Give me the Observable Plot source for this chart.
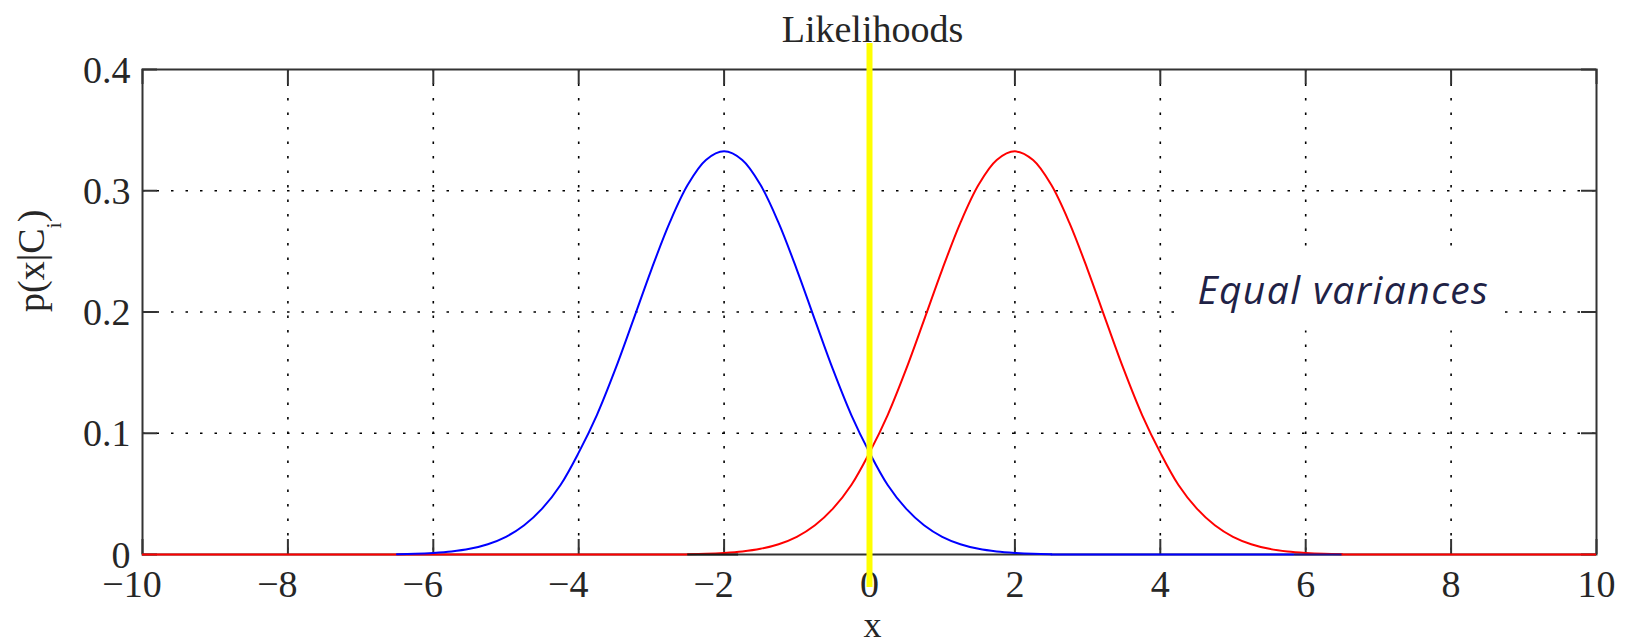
<!DOCTYPE html>
<html><head><meta charset="utf-8">
<script src="https://cdn.jsdelivr.net/npm/d3@7"></script>
<script src="https://cdn.jsdelivr.net/npm/@observablehq/plot@0.6"></script>
<style>html,body{margin:0;padding:0;background:#fff;}</style>
</head><body><div id="chart"></div>
<script>
// ---- data ----
const xTicks = [-10, -8, -6, -4, -2, 0, 2, 4, 6, 8, 10];
const xTickLabels = ["−10", "−8", "−6", "−4", "−2", "0", "2", "4", "6", "8", "10"];
const yTicks = [0, 0.1, 0.2, 0.3, 0.4];
const yTickLabels = ["0", "0.1", "0.2", "0.3", "0.4"];

const blueX = [-6.5,-6.25,-6,-5.75,-5.5,-5.25,-5,-4.75,-4.5,-4.25,-4,-3.75,-3.5,-3.25,-3,-2.75,-2.5,-2.25,-2,-1.75,-1.5,-1.25,-1,-0.75,-0.5,-0.25,0,0.25,0.5,0.75,1,1.25,1.5,1.75,2,2.25,2.5];
const blueP = [0.0003,0.0006,0.0013,0.0025,0.0047,0.0085,0.0146,0.0241,0.0380,0.0573,0.0840,0.1150,0.1522,0.1933,0.2350,0.2735,0.3049,0.3254,0.3325,0.3254,0.3049,0.2735,0.2350,0.1933,0.1522,0.1150,0.0840,0.0573,0.0380,0.0241,0.0146,0.0085,0.0047,0.0025,0.0013,0.0006,0.0003];
const redX = [-2.5,-2.25,-2,-1.75,-1.5,-1.25,-1,-0.75,-0.5,-0.25,0,0.25,0.5,0.75,1,1.25,1.5,1.75,2,2.25,2.5,2.75,3,3.25,3.5,3.75,4,4.25,4.5,4.75,5,5.25,5.5,5.75,6,6.25,6.5];
const redP = [0.0003,0.0006,0.0013,0.0025,0.0047,0.0085,0.0146,0.0241,0.0380,0.0573,0.0840,0.1150,0.1522,0.1933,0.2350,0.2735,0.3049,0.3254,0.3325,0.3254,0.3049,0.2735,0.2350,0.1933,0.1522,0.1150,0.0840,0.0573,0.0380,0.0241,0.0146,0.0085,0.0047,0.0025,0.0013,0.0006,0.0003];

// zero-level line pieces visible along the x axis
const baseFrom = [-10, 2.5, 6.5, -2.5, 5.85];
const baseTo   = [-2.5, 5.85, 10, -1.8, 6.5];
const baseSeries = ["C2", "C1", "C2", "D2", "D1"];

const boundaryX = [0];
const titleText = "Likelihoods";
const xLabel = "x";
const yLabel = "p(x|C";
const noteText = ["Equal variances"];
const noteX = [4.51];
const noteY = [0.207];

// ---- build ----
const W = 1628, H = 644;
const mL = 142, mR = 32, mT = 69, mB = 90;
const xDomain = [-10, 10], yDomain = [0, 0.4];
const plotW = W - mL - mR, plotH = H - mT - mB;
const tickLen = 15;
const tickDy = (yDomain[1] - yDomain[0]) * tickLen / plotH;
const tickDx = (xDomain[1] - xDomain[0]) * tickLen / plotW;

const blueData = blueX.map((x, i) => ({x, p: blueP[i]}));
const redData = redX.map((x, i) => ({x, p: redP[i]}));
const baseData = baseFrom.map((f, i) => ({from: f, to: baseTo[i], s: baseSeries[i]}));
const notes = noteText.map((t, i) => ({t, x: noteX[i], y: noteY[i]}));

const serif = "'Liberation Serif', 'Times New Roman', serif";
const fs = 38;
const grid = {stroke: "#000", strokeOpacity: 1, strokeWidth: 1.6, strokeDasharray: "2.5,12"};
const tk = {stroke: "#333", strokeWidth: 2};

const svg = Plot.plot({
  width: W, height: H,
  marginLeft: mL, marginRight: mR, marginTop: mT, marginBottom: mB,
  x: {domain: xDomain, axis: null},
  y: {domain: yDomain, axis: null},
  color: {domain: ["C1", "C2", "D1", "D2"], range: ["#0000ff", "#ff0000", "#22108a", "#1a1a1a"]},
  style: {fontFamily: serif, color: "#262626", background: "#fff"},
  marks: [
    Plot.ruleX(xTicks.slice(1, -1), grid),
    Plot.ruleY(yTicks.slice(1, -1), grid),
    Plot.frame({stroke: "#333", strokeWidth: 2}),
    Plot.ruleX(xTicks, {x: d => d, y1: yDomain[0], y2: yDomain[0] + tickDy, ...tk}),
    Plot.ruleX(xTicks, {x: d => d, y1: yDomain[1], y2: yDomain[1] - tickDy, ...tk}),
    Plot.ruleY(yTicks, {y: d => d, x1: xDomain[0], x2: xDomain[0] + tickDx, ...tk}),
    Plot.ruleY(yTicks, {y: d => d, x1: xDomain[1], x2: xDomain[1] - tickDx, ...tk}),
    Plot.ruleY(baseData.filter(d => d.s[0] === "C"), {y: 0, x1: "from", x2: "to", stroke: "s", strokeWidth: 2.2}),
    Plot.line(blueData, {x: "x", y: "p", stroke: "#0000ff", strokeWidth: 2, curve: "catmull-rom"}),
    Plot.line(redData, {x: "x", y: "p", stroke: "#ff0000", strokeWidth: 2, curve: "catmull-rom"}),
    Plot.ruleY(baseData.filter(d => d.s[0] === "D"), {y: 0, x1: "from", x2: "to", stroke: "s", strokeWidth: 2.2}),
    Plot.text(xTicks.filter(d => d < 0), {x: d => d, text: d => xTickLabels[xTicks.indexOf(d)], frameAnchor: "bottom", dy: 42, dx: -10.5, lineAnchor: "bottom", fontSize: fs}),
    Plot.text(xTicks.filter(d => d >= 0), {x: d => d, text: d => xTickLabels[xTicks.indexOf(d)], frameAnchor: "bottom", dy: 42, lineAnchor: "bottom", fontSize: fs}),
    Plot.text(yTicks, {y: d => d, text: d => yTickLabels[yTicks.indexOf(d)], frameAnchor: "left", dx: -12, dy: 13, textAnchor: "end", lineAnchor: "bottom", fontSize: fs}),
    Plot.text([titleText], {frameAnchor: "top", dx: 3, dy: -28, lineAnchor: "bottom", fontSize: fs}),
    Plot.text([xLabel], {frameAnchor: "bottom", dx: 3, dy: 82, lineAnchor: "bottom", fontSize: 36}),
    Plot.text([yLabel], {frameAnchor: "left", dx: -111, rotate: -90, lineAnchor: "middle", fontSize: fs}),
    Plot.ruleX(boundaryX, {x: d => d, stroke: "#ffff00", strokeWidth: 6, insetTop: -26, insetBottom: -33}),
    Plot.text(notes, {x: "x", y: "y", text: "t", textAnchor: "start", lineAnchor: "bottom", fontSize: 39, fontStyle: "italic", fontFamily: "'Open Sans', sans-serif", fill: "#1f2246"})
  ]
});
document.getElementById("chart").appendChild(svg);

// subscript on the y label
d3.select(svg).selectAll("text").filter(function () { return this.textContent === yLabel; }).each(function () {
  const t = d3.select(this);
  t.text(null);
  t.append("tspan").text("p(x|C");
  t.append("tspan").attr("font-size", 22).attr("dy", 17).text("i");
  t.append("tspan").attr("font-size", fs).attr("dy", -17).text(")");
});

// white box behind the annotation (hides grid)
d3.select(svg).selectAll("text").filter(function () { return this.textContent === noteText[0]; }).each(function () {
  this.setAttribute("letter-spacing", "1.4");
  const r = this.getBoundingClientRect(), s = svg.getBoundingClientRect();
  const g = this.parentNode;
  const rect = document.createElementNS("http://www.w3.org/2000/svg", "rect");
  rect.setAttribute("x", r.left - s.left - 22);
  rect.setAttribute("y", r.top - s.top - 14);
  rect.setAttribute("width", r.width + 36);
  rect.setAttribute("height", r.height + 30);
  rect.setAttribute("fill", "#fff");
  g.parentNode.insertBefore(rect, g);
});
</script>
</body></html>
